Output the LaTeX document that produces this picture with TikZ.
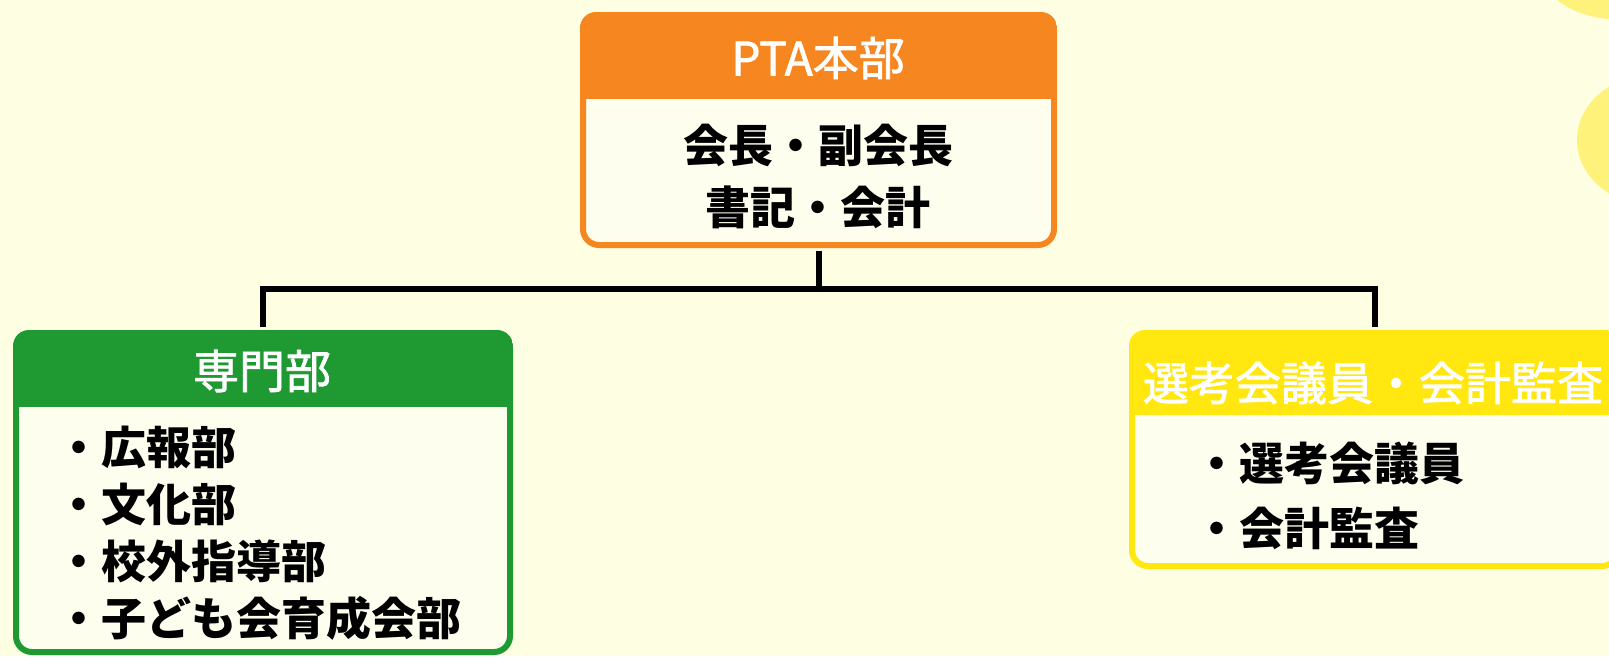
\documentclass[tikz,border=0pt]{standalone}
\usepackage{fontspec}
\setmainfont{Noto Sans CJK JP}
\newfontfamily\headfont{Noto Sans CJK JP}[FakeBold=1.6]
\usepackage{tikz}

\definecolor{bgcream}{HTML}{FEFEE2}
\definecolor{innerfill}{HTML}{FEFEEF}
\definecolor{blobyellow}{HTML}{FFF27A}
\definecolor{honbuorange}{HTML}{F6861F}
\definecolor{senmongreen}{HTML}{1F9A33}
\definecolor{senkoyellow}{HTML}{FFE70F}

\tikzset{
	orgbox/.style={draw=#1, fill=innerfill, line width=6pt, rounded corners=16pt, inner sep=0pt},
	headtext/.style={text=white, font=\headfont\fontsize{46}{54}\selectfont},
	bodytext/.style={font=\bfseries\fontsize{45}{#1}\selectfont},
	link/.style={line width=6pt},
}

\begin{document}
\begin{tikzpicture}[x=1pt,y=-1pt]
	%background
	\fill[bgcream] (0,0) rectangle (1609,656);
	\useasboundingbox (0,0) rectangle (1609,656);
	\clip (0,0) rectangle (1609,656);
	\fill[blobyellow] (1625,-20) ellipse (78pt and 40pt);	%corner blob - top
	\fill[blobyellow] (1655,140) ellipse (78pt and 66pt);	%corner blob - side
	
	%boxes
	\node[orgbox=honbuorange, minimum width=471pt, minimum height=230pt] (honbu) at (818.5,130) {};
	\node[orgbox=senmongreen, minimum width=494pt, minimum height=319pt] (senmon) at (263,492.5) {};
	\node[orgbox=senkoyellow, minimum width=486pt, minimum height=233pt] (senko) at (1375,449.5) {};
	
	%headers
	\begin{scope}
		\clip[rounded corners=16pt] (honbu.north west) rectangle (honbu.south east);
		\fill[honbuorange] (honbu.north west) rectangle ([yshift=-87pt]honbu.north east);
	\end{scope}
	\begin{scope}
		\clip[rounded corners=16pt] (senmon.north west) rectangle (senmon.south east);
		\fill[senmongreen] (senmon.north west) rectangle ([yshift=-77pt]senmon.north east);
	\end{scope}
	\begin{scope}
		\clip[rounded corners=16pt] (senko.north west) rectangle (senko.south east);
		\fill[senkoyellow] (senko.north west) rectangle ([yshift=-85pt]senko.north east);
	\end{scope}
	
	%lines
	\coordinate (branch) at (818.5,289);
	\draw[link, shorten <=3pt] (honbu.south) -- (branch);
	\draw[link, shorten <=3pt, shorten >=3pt] (senmon.north) |- (branch) -| (senko.north);
	
	%header labels
	\node[headtext] (honbuhead) at (818,58) {PTA本部};
	\node[headtext] (senmonhead) at (262,371) {専門部};
	\node[headtext] (senkohead) at (1373,383) {選考会議員・会計監査};
	
	%inner labels
	\node[bodytext=62pt, align=center] (honbubody) at (818,177) {会長・副会長\\書記・会計};
	\node[bodytext=57pt, align=left, anchor=west] (senmonbody) at (53,533) {・広報部\\・文化部\\・校外指導部\\・子ども会育成会部};
	\node[bodytext=65pt, align=left, anchor=west] (senkobody) at (1191,495.5) {・選考会議員\\・会計監査};
\end{tikzpicture}
\end{document}
